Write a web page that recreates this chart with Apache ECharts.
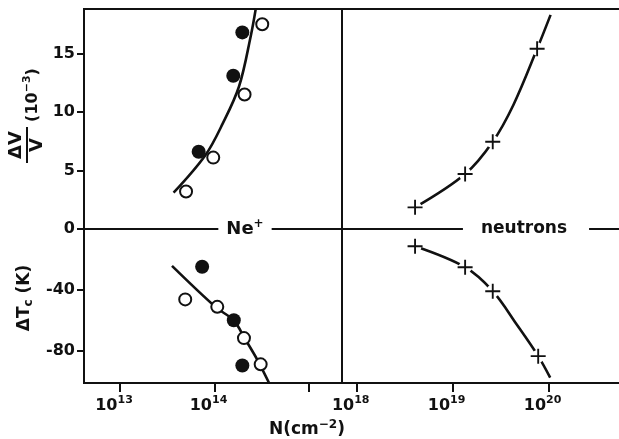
<!DOCTYPE html>
<html>
<head>
<meta charset="utf-8">
<script src="https://cdn.jsdelivr.net/npm/echarts@6/dist/echarts.min.js"></script>
<style>
  html, body { margin: 0; padding: 0; background: #fff; }
  #main { width: 619px; height: 439px; }
</style>
</head>
<body>
<div id="main"></div>
<script>
var myChart = echarts.init(document.getElementById('main'));

// Ne+ irradiation, open / filled circles
var neOpenN = [5.0e13, 9.7e13, 2.08e14, 3.2e14];
var neOpenDV = [3.2, 6.1, 11.5, 17.5];
var neFilledN = [6.8e13, 1.58e14, 1.97e14];
var neFilledDV = [6.6, 13.1, 16.8];
var neOpenTcN = [4.9e13, 1.07e14, 2.05e14, 3.08e14];
var neOpenTc = [-46.4, -51.3, -71.9, -89.2];
var neFilledTcN = [7.4e13, 1.6e14, 1.97e14];
var neFilledTc = [-24.9, -60.1, -90.0];
// drawn curves (Ne+)
var neFitDVN = [3.69e13, 8.0e13, 1.22e14, 1.82e14, 2.42e14, 2.73e14];
var neFitDV = [3.1, 6.3, 9.0, 12.2, 16.5, 18.8];
var neFitTcN = [3.55e13, 1.03e14, 1.6e14, 2.08e14, 2.84e14, 3.78e14];
var neFitTc = [-24.3, -51.5, -60.3, -71.9, -86.2, -101.5];

// neutrons, crosses
var nN = [4.06e18, 1.35e19, 2.62e19, 7.6e19];
var nDV = [1.85, 4.7, 7.46, 15.4];
var nTcN = [4.06e18, 1.35e19, 2.62e19, 7.8e19];
var nTc = [-11.4, -25.2, -41.0, -83.8];
var nFitDVN = [4.06e18, 1.35e19, 2.62e19, 4.3e19, 7.6e19, 1.05e20];
var nFitDV = [1.85, 4.7, 7.46, 10.6, 15.4, 18.3];
var nFitTcN = [4.06e18, 1.35e19, 2.62e19, 4.66e19, 7.8e19, 1.04e20];
var nFitTc = [-11.4, -25.2, -41.0, -63.0, -83.8, -98.0];

// ticks
var dvTicks = [0, 5, 10, 15];
var tcTicks = [-40, -80];
var neTicks = [1e13, 1e14, 1e15];
var neLabels = [1e13, 1e14];
var nTicks = [1e18, 1e19, 1e20];

var FONT = 'DejaVu Sans';
var INK = '#111';

function pairs(xs, ys) {
    return xs.map(function (x, i) { return [x, ys[i]]; });
}

var supRich = {
    b: { fontFamily: FONT, fontWeight: 'bold', fontSize: 16, color: INK },
    s: { fontFamily: FONT, fontWeight: 'bold', fontSize: 11, color: INK, padding: [0, 0, 11, 0] }
};

function gridBox(left, top, width, height) {
    return {
        left: left, top: top, width: width, height: height,
        show: true, borderColor: INK, borderWidth: 2,
        backgroundColor: 'transparent', containLabel: false, outerBoundsMode: 'none'
    };
}

function xAx(gridIndex, min, max, shown, ticks, labels) {
    return {
        type: 'log', logBase: 10, gridIndex: gridIndex, min: min, max: max,
        show: shown,
        axisLine: { show: shown, onZero: false, lineStyle: { color: INK, width: 2 } },
        axisTick: { show: shown, inside: false, length: 9, lineStyle: { color: INK, width: 2 }, customValues: ticks },
        axisLabel: {
            show: shown, margin: 12, customValues: labels,
            padding: [0, 12, 0, 0],
            formatter: function (v) { return '{b|10}{s|' + Math.round(Math.log10(v)) + '}'; },
            rich: supRich
        },
        splitLine: { show: false },
        minorTick: { show: false }
    };
}

function yAx(gridIndex, min, max, shown, ticks) {
    return {
        type: 'value', gridIndex: gridIndex, min: min, max: max,
        show: shown,
        axisLine: { show: shown, onZero: false, lineStyle: { color: INK, width: 2 } },
        axisTick: { show: shown, inside: false, length: 7, lineStyle: { color: INK, width: 2 }, customValues: ticks },
        axisLabel: {
            show: shown, margin: 9, customValues: ticks,
            fontFamily: FONT, fontWeight: 'bold', fontSize: 16, color: INK
        },
        splitLine: { show: false }
    };
}

var cross = 'path://M-1,-8 L1,-8 L1,-1 L8,-1 L8,1 L1,1 L1,8 L-1,8 L-1,1 L-8,1 L-8,-1 L-1,-1 Z';

function curve(x, y, data) {
    return {
        type: 'line', xAxisIndex: x, yAxisIndex: y, data: data,
        smooth: 0.35, showSymbol: false, symbol: 'none', z: 2,
        lineStyle: { color: INK, width: 2.6 }, silent: true
    };
}
function filled(x, y, data) {
    return {
        type: 'scatter', xAxisIndex: x, yAxisIndex: y, data: data, z: 4,
        symbol: 'circle', symbolSize: 14, itemStyle: { color: INK, opacity: 1 }, silent: true
    };
}
function open(x, y, data) {
    return {
        type: 'scatter', xAxisIndex: x, yAxisIndex: y, data: data, z: 5,
        symbol: 'circle', symbolSize: 12,
        itemStyle: { color: '#fff', borderColor: INK, borderWidth: 2, opacity: 1 }, silent: true
    };
}
function halo(x, y, data) {
    return {
        type: 'scatter', xAxisIndex: x, yAxisIndex: y, data: data, z: 3,
        symbol: 'circle', symbolSize: 13, itemStyle: { color: '#fff', opacity: 1 }, silent: true
    };
}
function plus(x, y, data) {
    return {
        type: 'scatter', xAxisIndex: x, yAxisIndex: y, data: data, z: 4,
        symbol: cross, symbolSize: 15, itemStyle: { color: INK, opacity: 1 }, silent: true
    };
}

function rot(x, y, text, rich) {
    return {
        type: 'text', x: x, y: y, rotation: Math.PI / 2, z: 100,
        style: { text: text, rich: rich, align: 'center', verticalAlign: 'middle',
                 font: 'bold 18px ' + FONT, fill: INK }
    };
}

var option = {
    animation: false,
    backgroundColor: '#fff',
    grid: [
        gridBox(84, 9, 258, 220),
        gridBox(84, 229, 258, 154),
        gridBox(342, 9, 280, 220),
        gridBox(342, 229, 280, 154)
    ],
    xAxis: [
        xAx(0, 4.16e12, 2.234e15, false, neTicks, neLabels),
        xAx(1, 4.16e12, 2.234e15, true, neTicks, neLabels),
        xAx(2, 7.03e17, 5.83e20, false, nTicks, nTicks),
        xAx(3, 7.03e17, 5.83e20, true, nTicks, nTicks)
    ],
    yAxis: [
        yAx(0, 0, 18.8, true, dvTicks),
        yAx(1, -101.5, 0, true, tcTicks),
        yAx(2, 0, 18.8, false, dvTicks),
        yAx(3, -101.5, 0, false, tcTicks)
    ],
    series: [
        curve(0, 0, pairs(neFitDVN, neFitDV)),
        filled(0, 0, pairs(neFilledN, neFilledDV)),
        open(0, 0, pairs(neOpenN, neOpenDV)),
        curve(1, 1, pairs(neFitTcN, neFitTc)),
        filled(1, 1, pairs(neFilledTcN, neFilledTc)),
        open(1, 1, pairs(neOpenTcN, neOpenTc)),
        curve(2, 2, pairs(nFitDVN, nFitDV)),
        halo(2, 2, pairs(nN, nDV)),
        plus(2, 2, pairs(nN, nDV)),
        curve(3, 3, pairs(nFitTcN, nFitTc)),
        halo(3, 3, pairs(nTcN, nTc)),
        plus(3, 3, pairs(nTcN, nTc))
    ],
    graphic: [
        {
            type: 'text', x: 245, y: 229, z: 100,
            style: {
                text: '{b|Ne}{s|+}', align: 'center', verticalAlign: 'middle',
                backgroundColor: '#fff', padding: [2, 8, 2, 8],
                rich: {
                    b: { fontFamily: FONT, fontWeight: 'bold', fontSize: 18, fill: INK },
                    s: { fontFamily: FONT, fontWeight: 'bold', fontSize: 12, fill: INK, padding: [0, 0, 10, 0] }
                }
            }
        },
        {
            type: 'text', x: 526, y: 229, z: 100,
            style: {
                text: 'neutrons', align: 'center', verticalAlign: 'middle',
                font: 'bold 17px ' + FONT, fill: INK,
                backgroundColor: '#fff', padding: [2, 22, 2, 18]
            }
        },
        {
            type: 'text', x: 307, y: 430, z: 100,
            style: {
                text: '{b|N(cm}{s|−2}{b|)}', align: 'center', verticalAlign: 'middle',
                rich: {
                    b: { fontFamily: FONT, fontWeight: 'bold', fontSize: 17, fill: INK },
                    s: { fontFamily: FONT, fontWeight: 'bold', fontSize: 12, fill: INK, padding: [0, 0, 10, 0] }
                }
            }
        },
        rot(16, 145, 'ΔV'),
        {
            type: 'line', z: 100,
            shape: { x1: 27, y1: 127, x2: 27, y2: 163 },
            style: { stroke: INK, lineWidth: 2 }
        },
        rot(37, 145, 'V'),
        rot(33, 95, '{b|(10}{s|−3}{b|)}', {
            b: { fontFamily: FONT, fontWeight: 'bold', fontSize: 16, fill: INK },
            s: { fontFamily: FONT, fontWeight: 'bold', fontSize: 11, fill: INK, padding: [0, 0, 11, 0] }
        }),
        rot(25, 298, '{b|ΔT}{c|c}{b| (K)}', {
            b: { fontFamily: FONT, fontWeight: 'bold', fontSize: 17, fill: INK },
            c: { fontFamily: FONT, fontWeight: 'bold', fontSize: 12, fill: INK, padding: [8, 0, 0, 0] }
        })
    ]
};

myChart.setOption(option);
</script>
</body>
</html>
